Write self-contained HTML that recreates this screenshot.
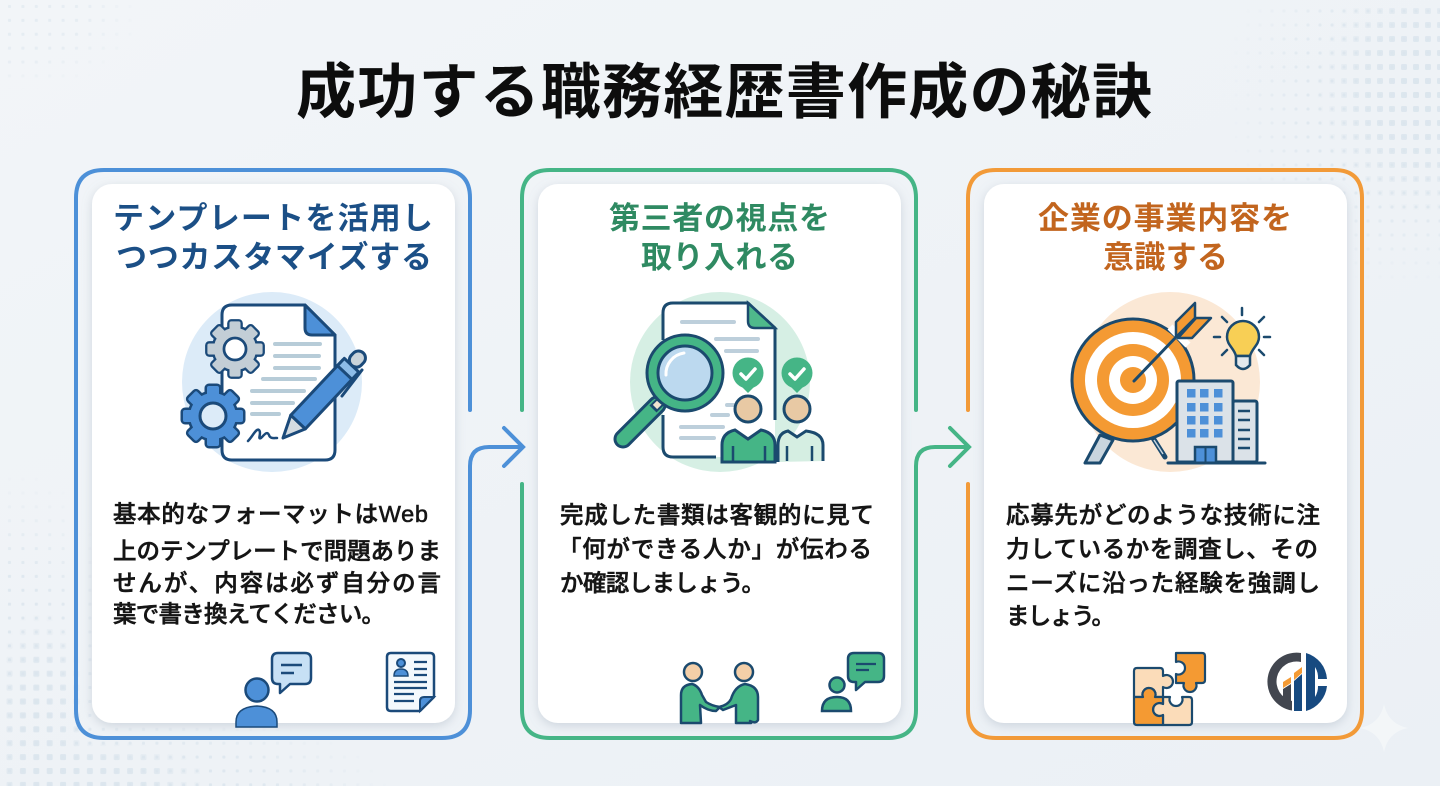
<!DOCTYPE html>
<html lang="ja"><head><meta charset="utf-8"><title>成功する職務経歴書作成の秘訣</title>
<style>html,body{margin:0;padding:0;width:1440px;height:786px;overflow:hidden;background:#eef2f6}svg{display:block}
text{font-family:"Liberation Sans","Noto Sans CJK JP",sans-serif}
.t{font-size:60px;font-weight:700;fill:#0d0d0d}
.h{font-size:31px;font-weight:700}
.b{font-size:23.5px;font-weight:500;fill:#151515;stroke:#151515;stroke-width:.55}
</style></head><body>
<svg width="1440" height="786" viewBox="0 0 1440 786" xmlns="http://www.w3.org/2000/svg">
<defs>
<linearGradient id="bg" x1="0" y1="0" x2="1" y2="1"><stop offset="0" stop-color="#f2f5f8"/><stop offset="1" stop-color="#ebf0f5"/></linearGradient>
<pattern id="dotsS" x="6" y="4" width="12" height="14" patternUnits="userSpaceOnUse"><rect x="4.500" y="5.500" width="3" height="3" rx=".8" fill="#dbe5ed"/></pattern>
<pattern id="dotsL" x="6" y="4" width="12" height="14" patternUnits="userSpaceOnUse"><rect x="3" y="4" width="6" height="6" rx="1.200" fill="#dbe5ed"/></pattern>
<pattern id="dotsS2" x="3" y="0" width="13.400" height="13.900" patternUnits="userSpaceOnUse"><rect x="5" y="5" width="3" height="3" rx=".8" fill="#dbe5ed"/></pattern>
<pattern id="dotsL2" x="3" y="0" width="13.400" height="13.900" patternUnits="userSpaceOnUse"><rect x="3.500" y="3.500" width="6" height="6" rx="1.200" fill="#dbe5ed"/></pattern>
<radialGradient id="fade"><stop offset="0" stop-color="#fff"/><stop offset=".55" stop-color="#fff" stop-opacity=".8"/><stop offset="1" stop-color="#fff" stop-opacity="0"/></radialGradient>
<mask id="mS"><ellipse cx="1420" cy="100" rx="200" ry="190" fill="url(#fade)"/><ellipse cx="20" cy="700" rx="110" ry="230" fill="url(#fade)"/><ellipse cx="120" cy="786" rx="270" ry="75" fill="url(#fade)"/><ellipse cx="20" cy="20" rx="120" ry="70" fill="url(#fade)" opacity=".6"/></mask>
<mask id="mL"><ellipse cx="1420" cy="90" rx="105" ry="125" fill="url(#fade)"/><ellipse cx="40" cy="720" rx="50" ry="110" fill="url(#fade)"/><ellipse cx="90" cy="776" rx="120" ry="36" fill="url(#fade)"/></mask>
<filter id="sh" x="-10%" y="-10%" width="120%" height="120%"><feDropShadow dx="0" dy="3" stdDeviation="5" flood-color="#8b9aab" flood-opacity=".32"/></filter>
<g id="gearshape"><circle r="23"/><rect x="-6" y="-30" width="12" height="14" rx="2"/><rect x="-6" y="-30" width="12" height="14" rx="2" transform="rotate(45)"/><rect x="-6" y="-30" width="12" height="14" rx="2" transform="rotate(90)"/><rect x="-6" y="-30" width="12" height="14" rx="2" transform="rotate(135)"/><rect x="-6" y="-30" width="12" height="14" rx="2" transform="rotate(180)"/><rect x="-6" y="-30" width="12" height="14" rx="2" transform="rotate(225)"/><rect x="-6" y="-30" width="12" height="14" rx="2" transform="rotate(270)"/><rect x="-6" y="-30" width="12" height="14" rx="2" transform="rotate(315)"/></g>
</defs>
<rect width="1440" height="786" fill="url(#bg)"/>
<g mask="url(#mS)"><rect x="1200" width="240" height="320" fill="url(#dotsS)"/><rect y="440" width="420" height="346" fill="url(#dotsS2)"/><rect width="200" height="100" fill="url(#dotsS2)"/></g>
<g mask="url(#mL)"><rect x="1200" width="240" height="320" fill="url(#dotsL)"/><rect y="440" width="420" height="346" fill="url(#dotsL2)"/></g>
<path d="M1384 704 Q1388 724 1408 728 Q1388 732 1384 752 Q1380 732 1360 728 Q1380 724 1384 704Z" fill="#f3f6f8"/>

<text class="t" x="296" y="113" textLength="856">成功する職務経歴書作成の秘訣</text>

<!-- outer frames -->
<g fill="none" stroke-width="4" stroke-linecap="round">
<path d="M470 410V198Q470 170 442 170H104Q76 170 76 198V710Q76 738 104 738H442Q470 738 470 710V466Q470 447 489 447H522" stroke="#4d90d8"/>
<path d="M504 428L523 447L504 466" stroke="#4d90d8"/>
<path d="M522 410V198Q522 170 550 170H888Q916 170 916 198V410" stroke="#45b586"/>
<path d="M522 484V710Q522 738 550 738H888Q916 738 916 710V466Q916 447 935 447H968" stroke="#45b586"/>
<path d="M950 428L969 447L950 466" stroke="#45b586"/>
<path d="M968 410V198Q968 170 996 170H1334Q1362 170 1362 198V710Q1362 738 1334 738H996Q968 738 968 710V484" stroke="#f29a38"/>
</g>
<g fill="#fff" filter="url(#sh)">
<rect x="92" y="184" width="363" height="539" rx="20"/>
<rect x="538" y="184" width="363" height="539" rx="20"/>
<rect x="984" y="184" width="363" height="539" rx="20"/>
</g>

<!-- headings -->
<text class="h" fill="#1b4f86" x="113" y="229" textLength="320">テンプレートを活用し</text><text class="h" fill="#1b4f86" x="116" y="268" textLength="316">つつカスタマイズする</text>
<text class="h" fill="#2f8a62" x="609" y="229" textLength="221">第三者の視点を</text><text class="h" fill="#2f8a62" x="641" y="268" textLength="157">取り入れる</text>
<text class="h" fill="#c2651e" x="1038" y="229" textLength="254">企業の事業内容を</text><text class="h" fill="#c2651e" x="1103" y="268" textLength="125">意識する</text>

<!-- body -->
<text class="b" x="113" y="522" textLength="315">基本的なフォーマットはWeb</text>
<text class="b" x="113" y="559" textLength="328">上のテンプレートで問題ありま</text>
<text class="b" x="113" y="591" textLength="328">せんが、内容は必ず自分の言</text>
<text class="b" x="113" y="622" textLength="272">葉で書き換えてください。</text>
<text class="b" x="560" y="523" textLength="314">完成した書類は客観的に見て</text>
<text class="b" x="558" y="557" textLength="314">「何ができる人か」が伝わる</text>
<text class="b" x="560" y="591" textLength="205">か確認しましょう。</text>
<text class="b" x="1006" y="523" textLength="314">応募先がどのような技術に注</text>
<text class="b" x="1006" y="557" textLength="312">力しているかを調査し、その</text>
<text class="b" x="1006" y="591" textLength="314">ニーズに沿った経験を強調し</text>
<text class="b" x="1006" y="624" textLength="109">ましょう。</text>

<!-- icon 1 -->
<circle cx="272" cy="382" r="90" fill="#dcebf8"/>
<path d="M222 315Q222 305 232 305H305L335 335V450Q335 460 325 460H232Q222 460 222 450Z" fill="#fff" stroke="#1b4a7a" stroke-width="3"/>
<path d="M305 305L335 335H312Q305 335 305 328Z" fill="#4d90d8" stroke="#1b4a7a" stroke-width="3" stroke-linejoin="round"/>
<g stroke="#b7ccd8" stroke-width="4" stroke-linecap="round"><path d="M275 344H320M275 356H319M275 368H319M263 379H315M252 391H304M252 403H293M252 414H279"/></g>
<path d="M248 441C253 436 256 428 259 430C262 433 257 440 261 438C265 434 267 431 269 435C270 439 274 438 277 438" fill="none" stroke="#1b4a7a" stroke-width="2.500" stroke-linecap="round"/>
<g transform="translate(235 349) scale(.92)"><use href="#gearshape" fill="#1b4a7a" stroke="#1b4a7a" stroke-width="5"/><use href="#gearshape" fill="#c3ced6"/><circle r="12" fill="#fff" stroke="#1b4a7a" stroke-width="3"/></g>
<g transform="translate(213 416)"><use href="#gearshape" fill="#1b4a7a" stroke="#1b4a7a" stroke-width="5"/><use href="#gearshape" fill="#4d90d8"/><circle r="13" fill="#dcebf8" stroke="#1b4a7a" stroke-width="3"/></g>
<path d="M362 370L342 396" stroke="#1b4a7a" stroke-width="3" stroke-linecap="round"/>
<g transform="translate(283 438) rotate(-46.7)" stroke="#1b4a7a" stroke-width="3" stroke-linejoin="round">
<path d="M0 0L22 -10V10Z" fill="#d5dce1"/><rect x="22" y="-10" width="76" height="20" fill="#4d90d8"/><rect x="90" y="-10" width="10" height="20" fill="#8dbce8"/><rect x="100" y="-7" width="17" height="14" rx="7" fill="#c9d3da"/></g>

<!-- icon 2 -->
<circle cx="720" cy="382" r="90" fill="#d6efe4"/>
<path d="M663 313Q663 303 673 303H748L775 328V457H673Q663 457 663 447Z" fill="#fff"/>
<path d="M775 420V328L748 303H673Q663 303 663 313V340M663 415V447Q663 457 673 457H716" fill="none" stroke="#1b4a6e" stroke-width="3"/>
<path d="M748 303L775 328H755Q748 328 748 321Z" fill="#4fb98b" stroke="#1b4a6e" stroke-width="2.500"/>
<g stroke="#bdcfdb" stroke-width="4" stroke-linecap="round"><path d="M682 322H734M716 339H758M726 351H757M727 405H733M712 415H728M681 427H723M681 438H714"/></g>
<path d="M657 405L623 439" stroke="#1b4a6e" stroke-width="19" stroke-linecap="round"/>
<path d="M657 405L623 439" stroke="#45b586" stroke-width="13" stroke-linecap="round"/>
<path d="M653 409L664 398" stroke="#1b4a6e" stroke-width="10"/><path d="M655 407L663 399" stroke="#f1e4d0" stroke-width="6"/>
<circle cx="685" cy="373" r="38" fill="#45b586" stroke="#1b4a6e" stroke-width="3"/>
<circle cx="685" cy="373" r="27" fill="#bcd9ef" stroke="#1b4a6e" stroke-width="3"/>
<path d="M666 375A21 21 0 0 1 684 353" fill="none" stroke="#fff" stroke-width="3" stroke-linecap="round"/>
<g fill="#45b586"><circle cx="748" cy="373" r="15.500"/><path d="M741 386L748 393L755 386Z"/><circle cx="797" cy="373" r="15.500"/><path d="M790 386L797 393L804 386Z"/></g>
<path d="M741 374L746 379L755 369M790 374L795 379L804 369" fill="none" stroke="#fff" stroke-width="3.500" stroke-linecap="round" stroke-linejoin="round"/>
<path d="M778 462V445Q778 433 788 431L797 437L806 431Q823 433 823 445V461" fill="#d5eee2" stroke="#1b4a6e" stroke-width="3"/>
<path d="M722 462V445Q722 433 735 430L748 439L761 430Q775 433 775 445V462Z" fill="#45b586" stroke="#1b4a6e" stroke-width="3"/>
<path d="M733 446V461M765 446V461M787 446V461M812 446V461" stroke="#1b4a6e" stroke-width="2.500"/>
<circle cx="748" cy="409" r="13" fill="#e8c9a4" stroke="#1b4a6e" stroke-width="3"/>
<circle cx="797" cy="409" r="13" fill="#e8c9a4" stroke="#1b4a6e" stroke-width="3"/>

<!-- icon 3 -->
<circle cx="1170" cy="382" r="90" fill="#fbe8d5"/>
<path d="M1100 435L1085 463H1100L1113 440Z" fill="#c9d5de" stroke="#1b4a6e" stroke-width="3" stroke-linejoin="round"/>
<path d="M1153 438L1165 457" stroke="#1b4a6e" stroke-width="5" stroke-linecap="round"/><path d="M1154 440L1163 454" stroke="#c9d5de" stroke-width="1.500"/>
<circle cx="1133" cy="380" r="61" fill="#f49a33" stroke="#1b4a6e" stroke-width="3"/>
<circle cx="1133" cy="380" r="48" fill="#fff"/><circle cx="1133" cy="380" r="36" fill="#f49a33"/><circle cx="1133" cy="380" r="24" fill="#fff"/><circle cx="1133" cy="380" r="13" fill="#f49a33"/>
<path d="M1170 327L1188 345" stroke="#fff" stroke-width="7"/>
<path d="M1134 381L1178 335" stroke="#1b4a6e" stroke-width="3" stroke-linecap="round"/>
<path d="M1176 337L1176 322L1195 303L1195 318ZM1178 338L1192 338L1211 318L1196 318Z" fill="#f49a33" stroke="#1b4a6e" stroke-width="2.500" stroke-linejoin="round"/>
<rect x="1233" y="401" width="24" height="61" rx="2" fill="#dbe2e8" stroke="#1b4a6e" stroke-width="3"/>
<rect x="1177" y="381" width="56" height="81" rx="2" fill="#dbe2e8" stroke="#1b4a6e" stroke-width="3"/>
<path d="M1238 411H1250M1238 420H1250M1238 430H1250M1238 439H1250M1238 448H1250" stroke="#1b4a6e" stroke-width="2.500"/>
<g fill="#4d90d8"><rect x="1187" y="389" width="8.500" height="8.500"/><rect x="1200" y="389" width="8.500" height="8.500"/><rect x="1214" y="389" width="8.500" height="8.500"/><rect x="1187" y="403" width="8.500" height="8.500"/><rect x="1200" y="403" width="8.500" height="8.500"/><rect x="1214" y="403" width="8.500" height="8.500"/><rect x="1187" y="416" width="8.500" height="8.500"/><rect x="1200" y="416" width="8.500" height="8.500"/><rect x="1214" y="416" width="8.500" height="8.500"/><rect x="1187" y="429" width="8.500" height="8.500"/><rect x="1200" y="429" width="8.500" height="8.500"/><rect x="1214" y="429" width="8.500" height="8.500"/></g>
<rect x="1195" y="447" width="21" height="16" fill="#4d90d8" stroke="#1b4a6e" stroke-width="2.500"/><path d="M1205.500 447V463" stroke="#1b4a6e" stroke-width="2"/>
<path d="M1168 463H1265" stroke="#1b4a6e" stroke-width="3" stroke-linecap="round"/>
<path d="M1236 356C1234 348 1227 345 1227 337A16 16 0 0 1 1259 337C1259 345 1252 348 1250 356Z" fill="#f8cf55" stroke="#1b4a6e" stroke-width="2.500"/>
<path d="M1236 356H1250V365Q1243 373 1236 365Z" fill="#e3e8ec" stroke="#1b4a6e" stroke-width="2.500"/>
<path d="M1242 308V315M1222 317L1227 322M1214 337H1220M1222 355L1227 350M1264 317L1259 322M1270 337H1264M1264 355L1259 350" stroke="#1b4a6e" stroke-width="2.500" stroke-linecap="round"/>

<!-- bottom icons 1 -->
<path d="M278 653H305Q311 653 311 659V678Q311 684 305 684H290L280 693V684H278Q272 684 272 678V659Q272 653 278 653Z" fill="#c7e0f5" stroke="#1b4a7a" stroke-width="2.500" stroke-linejoin="round"/>
<path d="M281 665H302M281 673H294" stroke="#1b4a7a" stroke-width="2.500"/>
<circle cx="257" cy="690" r="11.500" fill="#4d90d8" stroke="#1b4a7a" stroke-width="2.500"/>
<path d="M236 727V722Q236 707 257 706Q277 707 277 722V727Z" fill="#4d90d8" stroke="#1b4a7a" stroke-width="1.500"/>
<path d="M391 653H430Q434 653 434 657V697L420 711H391Q387 711 387 707V657Q387 653 391 653Z" fill="#f4f9fd" stroke="#1b4a7a" stroke-width="2.500" stroke-linejoin="round"/>
<path d="M420 711V701Q420 697 424 697H434Z" fill="#4d90d8" stroke="#1b4a7a" stroke-width="2"/>
<circle cx="401" cy="663" r="4" fill="#4d90d8" stroke="#1b4a7a" stroke-width="2"/><path d="M394 676Q394 669 401 669Q408 669 408 676Z" fill="#4d90d8" stroke="#1b4a7a" stroke-width="1.500"/>
<path d="M414 662H427M414 669H427M414 675H427M394 682H427M394 688H427M394 694H414M394 701H414" stroke="#1b4a7a" stroke-width="2.200"/>

<!-- bottom icons 2 -->
<path d="M681 723V695Q681 685 692 684Q699 686 702 695L706 702Q712 706 720 707L716 711Q708 711 700 705L701 723ZM736 723V705L723 710L719 707Q728 705 731 699Q735 686 745 684Q758 686 758 697V720Q756 724 750 721L751 723Z" fill="#45b586" stroke="#1b4a6e" stroke-width="2.500" stroke-linejoin="round"/>
<circle cx="693" cy="672" r="9" fill="#f4cfa8" stroke="#1b4a6e" stroke-width="2.500"/><circle cx="744" cy="672" r="9" fill="#f4cfa8" stroke="#1b4a6e" stroke-width="2.500"/>
<path d="M854 653H878Q884 653 884 659V676Q884 682 878 682H865L856 690V682H854Q848 682 848 676V659Q848 653 854 653Z" fill="#45b586" stroke="#1b4a6e" stroke-width="2.500" stroke-linejoin="round"/>
<path d="M856 664H876M856 670H869" stroke="#1b4a6e" stroke-width="2.200"/>
<circle cx="837" cy="685" r="7.500" fill="#45b586" stroke="#1b4a6e" stroke-width="2.500"/><path d="M822 711Q822 697 837 697Q851 697 851 711Z" fill="#45b586" stroke="#1b4a6e" stroke-width="2.500"/>

<!-- bottom icons 3 -->
<g stroke="#1b4a6e" stroke-width="2.200" stroke-linejoin="round">
<path d="M1137 668H1160Q1163 668 1163 671V676A6.500 6.500 0 1 1 1163 687V697H1155A6.500 6.500 0 1 0 1143 697H1134V671Q1134 668 1137 668Z" fill="#fbdcb9"/>
<path d="M1163 697H1170A6.500 6.500 0 1 0 1182 697H1189Q1192 697 1192 700V722Q1192 725 1189 725H1163V715A6.500 6.500 0 1 1 1163 704Z" fill="#fbdcb9"/>
<path d="M1134 697H1143A6.500 6.500 0 1 1 1155 697H1163V704A6.500 6.500 0 1 0 1163 715V725H1137Q1134 725 1134 722Z" fill="#f49a33"/>
<path d="M1176 653H1202Q1205 653 1205 656V680Q1205 683 1202 683H1196A6.500 6.500 0 1 1 1184 683H1176V674A6.500 6.500 0 1 0 1176 662Z" fill="#f49a33"/>
</g>
<path d="M1301 653A29 29 0 0 0 1292 710.500V701A20 20 0 0 1 1301 662Z" fill="#42464f"/>
<path d="M1283 689L1291 684V710L1283 705Z" fill="#42464f"/>
<path d="M1283 682L1291 677V683L1283 688Z" fill="#f49a33"/>
<path d="M1294 673L1302 667V673L1294 680Z" fill="#f49a33"/>
<path d="M1294 681L1302 674V711H1294Z" fill="#174a80"/>
<path d="M1306 653A29 29 0 0 1 1327 679H1318A20 20 0 0 0 1315 667V697A20 20 0 0 0 1318 686H1327A29 29 0 0 1 1306 711Z" fill="#174a80"/>
</svg>
</body></html>
